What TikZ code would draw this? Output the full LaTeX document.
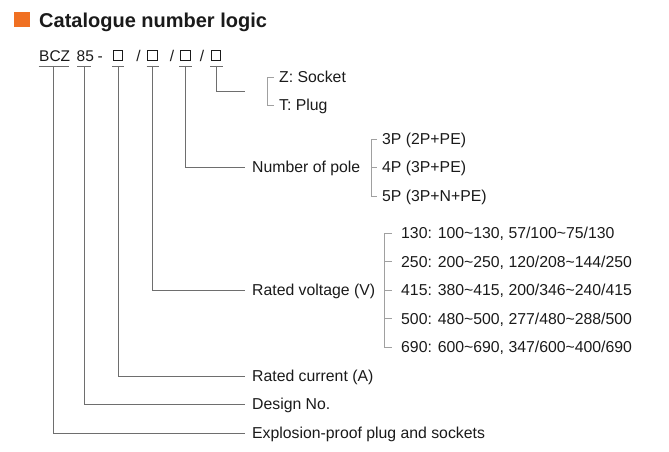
\documentclass[tikz,border=0pt]{standalone}
\usepackage{fontspec}
\setmainfont{Liberation Sans}
\definecolor{txt}{HTML}{1A1A1A}
\definecolor{connc}{HTML}{6E6E6E}
\definecolor{brkc}{HTML}{A0A0A0}
\definecolor{orng}{HTML}{F07022}
\begin{document}
\begin{tikzpicture}[x=1pt,y=-1pt,
  lbl/.style={font=\fontsize{15.8}{18}\selectfont, text=txt, inner sep=0pt, text height=11.3pt, text depth=0pt, anchor=west},
  code/.style={font=\fontsize{15.5}{18}\selectfont, text=txt, inner sep=0pt, text height=11.1pt, text depth=0pt, anchor=west},
  conn/.style={draw=connc, line width=0.9pt},
  brk/.style={draw=brkc, line width=0.9pt},
  codebox/.style={draw=txt, line width=0.8pt, minimum width=9.5pt, minimum height=9.5pt, inner sep=0pt}]
\useasboundingbox (0,0) rectangle (669,452);

% title
\node[fill=orng, minimum width=16pt, minimum height=15pt, inner sep=0pt, anchor=north west] (sq) at (14,12) {};
\node[font=\bfseries\fontsize{20}{24}\selectfont, text=txt, inner sep=0pt, text height=14.3pt, text depth=0pt, anchor=west] (title) at (39,20) {Catalogue number logic};

% code line
\node[code] (bcz) at (39,55.5) {BCZ};
\node[code] (n85) at (76.5,55.5) {85};
\node[code] (dash) at (97.5,55.5) {-};
\node[codebox] (b1) at (118,55.5) {};
\node[code, anchor=center] (s1) at (138.5,55.5) {/};
\node[codebox] (b2) at (152.5,55.5) {};
\node[code, anchor=center] (s2) at (172,55.5) {/};
\node[codebox] (b3) at (185.5,55.5) {};
\node[code, anchor=center] (s3) at (202,55.5) {/};
\node[codebox] (b4) at (216,55.5) {};

% underline centres
\coordinate (u1) at (53.5,66);
\coordinate (u2) at (84,66);
\coordinate (u3) at (118,66);
\coordinate (u4) at (152.5,66);
\coordinate (u5) at (185.5,66);
\coordinate (u6) at (216.5,66);
\draw[conn] ([xshift=-15pt]u1) -- ([xshift=15pt]u1);
\draw[conn] ([xshift=-7pt]u2) -- ([xshift=7pt]u2);
\draw[conn] ([xshift=-6pt]u3) -- ([xshift=6pt]u3);
\draw[conn] ([xshift=-6pt]u4) -- ([xshift=6pt]u4);
\draw[conn] ([xshift=-6.5pt]u5) -- ([xshift=6.5pt]u5);
\draw[conn] ([xshift=-6.5pt]u6) -- ([xshift=6.5pt]u6);

% labels
\node[lbl] (zs) at (279,77) {Z: Socket};
\node[lbl] (tp) at (279,105) {T: Plug};
\coordinate (ztend) at (245,91);

\node[lbl] (pole) at (252,167) {Number of pole};
\node[lbl] (p1) at (382,139) {3P (2P+PE)};
\node[lbl] (p2) at (382,167) {4P (3P+PE)};
\node[lbl] (p3) at (382,196) {5P (3P+N+PE)};

\node[lbl] (volt) at (252,290) {Rated voltage (V)};
\node[lbl] (v1) at (401,233) {130: 100\textasciitilde130, 57/100\textasciitilde75/130};
\node[lbl] (v2) at (401,261.5) {250: 200\textasciitilde250, 120/208\textasciitilde144/250};
\node[lbl] (v3) at (401,290) {415: 380\textasciitilde415, 200/346\textasciitilde240/415};
\node[lbl] (v4) at (401,318.5) {500: 480\textasciitilde500, 277/480\textasciitilde288/500};
\node[lbl] (v5) at (401,347) {690: 600\textasciitilde690, 347/600\textasciitilde400/690};

\node[lbl] (curr) at (252,376) {Rated current (A)};
\node[lbl] (design) at (252,404) {Design No.};
\node[lbl] (expl) at (252,433) {Explosion-proof plug and sockets};

% connectors
\draw[conn] (u1) |- ([xshift=-7pt]expl.west);
\draw[conn] (u2) |- ([xshift=-7pt]design.west);
\draw[conn] (u3) |- ([xshift=-7pt]curr.west);
\draw[conn] (u4) |- ([xshift=-7pt]volt.west);
\draw[conn] (u5) |- ([xshift=-7pt]pole.west);
\draw[conn] (u6) |- (ztend);

% brackets
\draw[brk] ([xshift=-5pt]zs.west) -- ([xshift=-12pt]zs.west) -- ([xshift=-12pt]tp.west) -- ([xshift=-5pt]tp.west);
\draw[brk] ([xshift=-5pt]p1.west) -- ([xshift=-11pt]p1.west) -- ([xshift=-11pt]p3.west) -- ([xshift=-5pt]p3.west);
\draw[brk] ([xshift=-11pt]p2.west) -- ([xshift=-5pt]p2.west);
\draw[brk] ([xshift=-9pt]v1.west) -- ([xshift=-17pt]v1.west) -- ([xshift=-17pt]v5.west) -- ([xshift=-9pt]v5.west);
\draw[brk] ([xshift=-17pt]v2.west) -- ([xshift=-9pt]v2.west);
\draw[brk] ([xshift=-17pt]v3.west) -- ([xshift=-9pt]v3.west);
\draw[brk] ([xshift=-17pt]v4.west) -- ([xshift=-9pt]v4.west);
\end{tikzpicture}
\end{document}
